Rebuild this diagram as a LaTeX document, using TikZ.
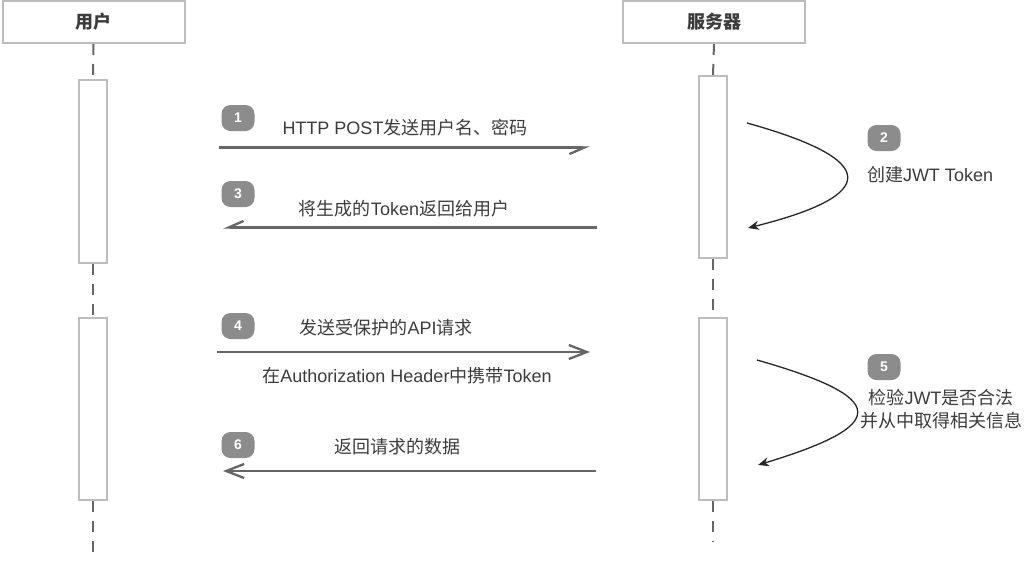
\documentclass[tikz,border=0pt]{standalone}
\usepackage{fontspec}
\setmainfont{Liberation Sans}
\newfontfamily\cjk{Noto Sans CJK SC}
\usetikzlibrary{arrows.meta}
\definecolor{boxgray}{HTML}{BDBDBD}
\definecolor{linegray}{HTML}{666666}
\definecolor{txtgray}{HTML}{3C3C3C}
\definecolor{badgegray}{HTML}{8C8C8C}
\newcommand\zh[1]{{\cjk #1}}
\begin{document}
\begin{tikzpicture}[x=1pt,y=-1pt,
  header/.style={draw=boxgray,line width=2pt,fill=white,minimum width=182pt,minimum height=42pt,inner sep=0pt,font=\fontsize{18}{20}\selectfont\cjk\bfseries,text=txtgray},
  actbox/.style={draw=boxgray,line width=2pt,fill=white,minimum width=28pt,inner sep=0pt},
  lifeline/.style={draw=linegray,line width=2pt,dash pattern=on 11pt off 9pt},
  msg/.style={draw=linegray,line width=2.3pt},
  harp/.style={msg,-{Straight Barb[right,length=15pt,width=13pt]}},
  chev/.style={msg,-{Straight Barb[length=18pt,width=14pt]}},
  lbl/.style={font=\fontsize{18}{23}\selectfont,text=txtgray,inner sep=0pt,align=center},
  badge/.style={fill=badgegray,rounded corners=9pt,minimum width=33pt,minimum height=26pt,inner sep=0pt,text=white,font=\fontsize{14}{14}\selectfont\bfseries},
  selfarrow/.style={draw=black!85,line width=1.3pt,-{Stealth[length=11pt,width=9pt]}},
]
\useasboundingbox (0,0) rectangle (1024,563);

% headers
\node[header] (user) at (93.5,22) {用户};
\node[header] (server) at (714,22) {服务器};

% activation boxes
\node[actbox,minimum height=183pt] (ua1) at (93,171.5) {};
\node[actbox,minimum height=182pt] (sa1) at (713,167) {};
\node[actbox,minimum height=182pt] (ua2) at (93,409) {};
\node[actbox,minimum height=182pt] (sa2) at (713,409) {};
\coordinate (uend) at (93,552);
\coordinate (send) at (713,542);

% lifelines
\draw[lifeline] (user.south) -- (ua1.north);
\draw[lifeline] (ua1.south) -- (ua2.north);
\draw[lifeline] (ua2.south) -- (uend);
\draw[lifeline] (server.south) -- (sa1.north);
\draw[lifeline] (sa1.south) -- (sa2.north);
\draw[lifeline] (sa2.south) -- (send);

% message end points
\coordinate (m1s) at (219,147.5);
\coordinate (m1e) at (590,147.5);
\coordinate (m3s) at (597,227.5);
\coordinate (m3e) at (223,227.5);
\coordinate (m4s) at (217,352);
\coordinate (m4e) at (590,352);
\coordinate (m6s) at (596,471);
\coordinate (m6e) at (223,471);

\draw[harp] (m1s) -- (m1e);
\draw[harp] (m3s) -- (m3e);
\draw[chev] (m4s) -- (m4e);
\draw[chev] (m6s) -- (m6e);

% badges
\node[badge] (b1) at (238,118) {1};
\node[badge] (b3) at (238,194) {3};
\node[badge] (b4) at (238,326) {4};
\node[badge] (b6) at (238,445) {6};
\node[badge] (b2) at (884,138) {2};
\node[badge] (b5) at (884,367) {5};

% labels
\node[lbl] (t1) at (405,128) {HTTP POST\zh{发送用户名、密码}};
\node[lbl] (t3) at (404,209) {\zh{将生成的}Token\zh{返回给用户}};
\node[lbl] (t4) at (386,328) {\zh{发送受保护的}API\zh{请求}};
\node[lbl] (t4b) at (407,376) {\zh{在}Authorization Header\zh{中携带}Token};
\node[lbl] (t6) at (397,447) {\zh{返回请求的数据}};
\node[lbl] (t2) at (930,175) {\zh{创建}JWT Token};
\node[lbl] (t5) at (941,409) {\zh{检验}JWT\zh{是否合法}\\\zh{并从中取得相关信息}};

% self arrows
\coordinate (c2s) at (747,123);
\coordinate (c2e) at (748,228);
\coordinate (c5s) at (757,360);
\coordinate (c5e) at (758,465);
\draw[selfarrow] (c2s) .. controls (880,160) and (880,195) .. (c2e);
\draw[selfarrow] (c5s) .. controls (890,398) and (890,425) .. (c5e);
\end{tikzpicture}
\end{document}
